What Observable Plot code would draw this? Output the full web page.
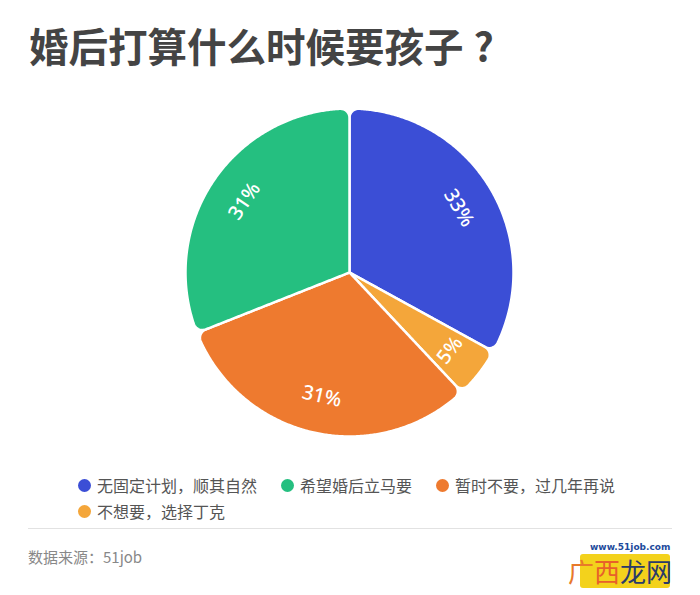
<!DOCTYPE html>
<html><head><meta charset="utf-8">
<script src="https://cdn.jsdelivr.net/npm/d3@7"></script>
<script src="https://cdn.jsdelivr.net/npm/@observablehq/plot@0.6"></script>
<style>
body{margin:0;background:#fff;font-family:"Noto Sans CJK SC","Noto Sans",sans-serif;}
#wrap{position:relative;width:700px;height:595px;overflow:hidden;background:#fff;}
#title{position:absolute;left:29px;top:23px;font-size:39.5px;font-weight:700;color:#444;line-height:44px;white-space:nowrap;}
#title .q{margin-left:10px;}
#chart{position:absolute;left:0;top:90px;}
#legend{position:absolute;left:78px;top:474px;width:600px;display:flex;flex-wrap:wrap;column-gap:24px;row-gap:4px;}
.item{display:flex;align-items:center;height:22px;font-size:16px;color:#555;}
.dot{width:13px;height:13px;border-radius:50%;margin-right:6px;flex:none;}
#rule{position:absolute;left:28px;top:528px;width:644px;height:1px;background:#e2e2e2;}
#source{position:absolute;left:28px;top:546px;font-size:15px;color:#888;line-height:22px;}
#wm{position:absolute;left:566px;top:540px;width:108px;height:52px;}
#wm .box{position:absolute;left:14px;top:14px;width:90px;height:34px;background:#f3d21c;border-radius:3px;}
#wm .url{position:absolute;left:24px;top:2px;font:bold 9px "DejaVu Sans",sans-serif;color:#1d4a9c;line-height:10px;}
#wm .name{position:absolute;left:2px;top:16px;font-size:26px;line-height:30px;white-space:nowrap;}
</style>
</head><body>
<div id="wrap">
  <div id="title"></div>
  <div id="chart"></div>
  <div id="legend"></div>
  <div id="rule"></div>
  <div id="source"></div>
  <div id="wm"><div class="box"></div><div class="url">www.51job.com</div><div class="name"><span style="color:#e8792a">广</span><span style="color:#e8602a">西</span><span style="color:#2a3a6a">龙网</span></div></div>
</div>
<script>
const titleText = "婚后打算什么时候要孩子";
const titleMark = "?";
const sourceText = "数据来源：51job";
// legend order
const categories = ["无固定计划，顺其自然", "希望婚后立马要", "暂时不要，过几年再说", "不想要，选择丁克"];
const values = [33, 31, 31, 5];
const colors = ["#3b4ed6", "#25bf80", "#ee7a2f", "#f4a63a"];
// clockwise order of slices from 12 o'clock
const pieOrder = ["无固定计划，顺其自然", "不想要，选择丁克", "暂时不要，过几年再说", "希望婚后立马要"];

const tEl = document.getElementById("title");
tEl.appendChild(document.createTextNode(titleText));
const qEl = document.createElement("span"); qEl.className = "q"; qEl.textContent = titleMark; tEl.appendChild(qEl);
document.getElementById("source").textContent = sourceText;

const lg = document.getElementById("legend");
categories.forEach((c, i) => {
  const it = document.createElement("div"); it.className = "item";
  const d = document.createElement("span"); d.className = "dot"; d.style.background = colors[i];
  const t = document.createElement("span"); t.textContent = c;
  it.appendChild(d); it.appendChild(t); lg.appendChild(it);
});

const R = 164;
const slices = pieOrder.map(name => {
  const i = categories.indexOf(name);
  return {name, value: values[i], color: colors[i]};
});
const arcs = d3.pie().sort(null).value(d => d.value)(slices);
const arcGen = d3.arc().innerRadius(0).outerRadius(R).cornerRadius(9);

// sample arc outlines into points
const tmpSvg = document.createElementNS("http://www.w3.org/2000/svg", "svg");
tmpSvg.style.position = "absolute"; tmpSvg.style.visibility = "hidden";
document.body.appendChild(tmpSvg);
const pts = [];
arcs.forEach(a => {
  const p = document.createElementNS("http://www.w3.org/2000/svg", "path");
  p.setAttribute("d", arcGen(a));
  tmpSvg.appendChild(p);
  const L = p.getTotalLength();
  const N = 500;
  for (let k = 0; k < N; k++) {
    const q = p.getPointAtLength(L * k / N);
    pts.push({name: a.data.name, color: a.data.color, x: q.x, y: q.y});
  }
});
tmpSvg.remove();

const LR = 127;
const labels = arcs.map(a => {
  const mid = (a.startAngle + a.endAngle) / 2;
  let rot = mid * 180 / Math.PI;
  if (rot > 90 && rot < 270) rot -= 180;
  else if (rot >= 270) rot -= 360;
  return {label: a.data.value + "%", x: LR * Math.sin(mid), y: -LR * Math.cos(mid), rot};
});

const chart = Plot.plot({
  width: 700, height: 370, margin: 0,
  style: {background: "transparent"},
  x: {domain: [-349, 351], range: [0, 700], axis: null},
  y: {domain: [-182, 188], range: [0, 370], axis: null},
  color: {type: "identity"},
  marks: [
    Plot.line(pts, {x: "x", y: "y", z: "name", fill: "color", stroke: "white", strokeWidth: 2.5, curve: "linear-closed"}),
    Plot.text(labels, {x: "x", y: "y", text: "label", rotate: "rot", fill: "white", fontSize: 20, fontFamily: "Noto Sans", fontWeight: 500})
  ]
});
document.getElementById("chart").appendChild(chart);
</script>
</body></html>
